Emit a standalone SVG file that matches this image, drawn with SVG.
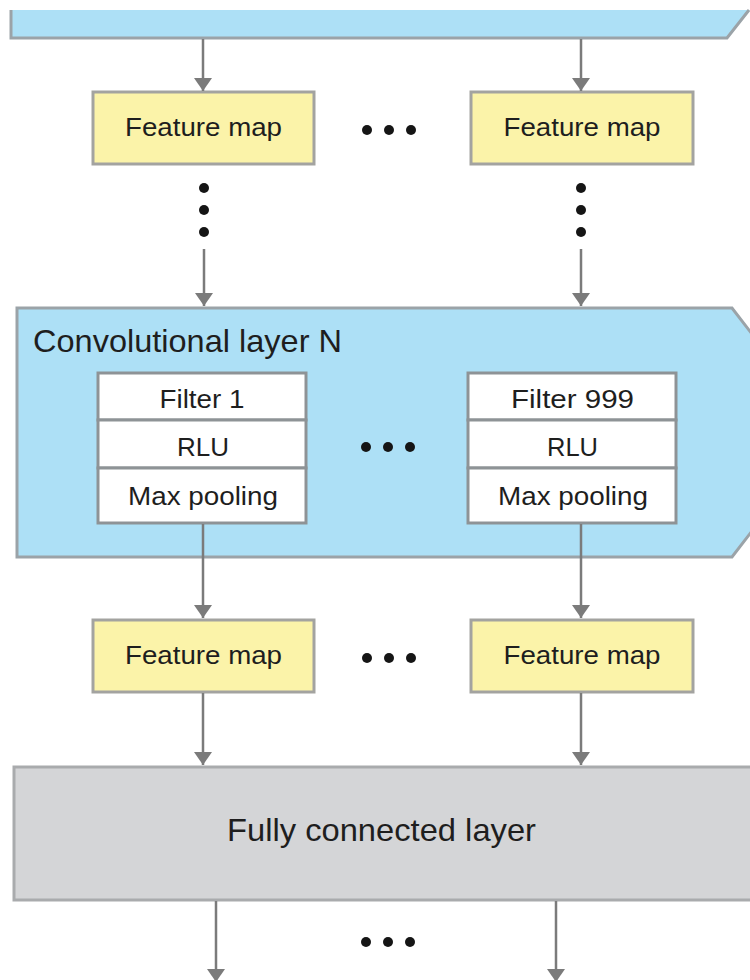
<svg xmlns="http://www.w3.org/2000/svg" width="750" height="980" viewBox="0 0 750 980">
  <defs>
    <marker id="ah" markerUnits="userSpaceOnUse" markerWidth="14" markerHeight="18" refX="13" refY="9" orient="auto" viewBox="0 0 14 18">
      <path d="M0,0 L13,9 L0,18 Z" fill="#7b7b7b"/>
    </marker>
  </defs>
  <style>
    .lbl { font-family: "Liberation Sans", Arial, sans-serif; fill: #1e1e1e; }
    .fm rect { fill: #fbf3a9; stroke: #a3a3a0; stroke-width: 3; }
    .flt rect { fill: #ffffff; stroke: #8e9396; stroke-width: 3; }
    .layer { fill: #ade0f6; stroke: #9ba3a8; stroke-width: 3; }
    .conn line { stroke: #7b7b7b; stroke-width: 2.5; marker-end: url(#ah); }
    .dot { fill: #151515; }
  </style>

  <!-- Top (previous) layer band -->
  <g id="top-layer">
    <polygon points="11,10 749,10 727,38 11,38" fill="#ade0f6"/>
    <polyline points="11,10 11,38 727,38 749,10" fill="none" stroke="#9ba3a8" stroke-width="3"/>
  </g>

  <!-- Feature maps row 1 -->
  <g id="fm1-left" class="fm">
    <rect x="93" y="92" width="221" height="72"/>
    <text class="lbl" x="203.5" y="136" font-size="26" text-anchor="middle" textLength="157" lengthAdjust="spacingAndGlyphs">Feature map</text>
  </g>
  <g id="fm1-right" class="fm">
    <rect x="471" y="92" width="222" height="72"/>
    <text class="lbl" x="582" y="136" font-size="26" text-anchor="middle" textLength="157" lengthAdjust="spacingAndGlyphs">Feature map</text>
  </g>
  <g id="dots-row1">
    <circle class="dot" cx="367" cy="130" r="5"/>
    <circle class="dot" cx="389" cy="130" r="5"/>
    <circle class="dot" cx="411" cy="130" r="5"/>
  </g>

  <!-- Vertical ellipses -->
  <g id="vdots-left">
    <circle class="dot" cx="204" cy="188" r="5"/>
    <circle class="dot" cx="204" cy="210" r="5"/>
    <circle class="dot" cx="204" cy="232" r="5"/>
  </g>
  <g id="vdots-right">
    <circle class="dot" cx="581" cy="188" r="5"/>
    <circle class="dot" cx="581" cy="210" r="5"/>
    <circle class="dot" cx="581" cy="232" r="5"/>
  </g>

  <!-- Convolutional layer N -->
  <g id="conv-layer-n">
    <polygon class="layer" points="17,308 732,308 752,334 752,531 732,557 17,557"/>
    <text class="lbl" x="33" y="352" font-size="32" fill="#1b2a33" textLength="309" lengthAdjust="spacingAndGlyphs">Convolutional layer N</text>
  </g>
  <g id="filter-1" class="flt">
    <rect x="98" y="373" width="208" height="47"/>
    <rect x="98" y="420" width="208" height="48"/>
    <rect x="98" y="468" width="208" height="55"/>
    <text class="lbl" x="202" y="408" font-size="26" text-anchor="middle" textLength="85" lengthAdjust="spacingAndGlyphs">Filter 1</text>
    <text class="lbl" x="203" y="456" font-size="26" text-anchor="middle" textLength="52" lengthAdjust="spacingAndGlyphs">RLU</text>
    <text class="lbl" x="203" y="505" font-size="26" text-anchor="middle" textLength="150" lengthAdjust="spacingAndGlyphs">Max pooling</text>
  </g>
  <g id="filter-999" class="flt">
    <rect x="468" y="373" width="208" height="47"/>
    <rect x="468" y="420" width="208" height="48"/>
    <rect x="468" y="468" width="208" height="55"/>
    <text class="lbl" x="572.5" y="408" font-size="26" text-anchor="middle" textLength="123" lengthAdjust="spacingAndGlyphs">Filter 999</text>
    <text class="lbl" x="572.5" y="456" font-size="26" text-anchor="middle" textLength="51" lengthAdjust="spacingAndGlyphs">RLU</text>
    <text class="lbl" x="573" y="505" font-size="26" text-anchor="middle" textLength="150" lengthAdjust="spacingAndGlyphs">Max pooling</text>
  </g>
  <g id="dots-conv">
    <circle class="dot" cx="366" cy="447" r="5"/>
    <circle class="dot" cx="388" cy="447" r="5"/>
    <circle class="dot" cx="410" cy="447" r="5"/>
  </g>

  <!-- Feature maps row 2 -->
  <g id="fm2-left" class="fm">
    <rect x="93" y="620" width="221" height="72"/>
    <text class="lbl" x="203.5" y="664" font-size="26" text-anchor="middle" textLength="157" lengthAdjust="spacingAndGlyphs">Feature map</text>
  </g>
  <g id="fm2-right" class="fm">
    <rect x="471" y="620" width="222" height="72"/>
    <text class="lbl" x="582" y="664" font-size="26" text-anchor="middle" textLength="157" lengthAdjust="spacingAndGlyphs">Feature map</text>
  </g>
  <g id="dots-row2">
    <circle class="dot" cx="367" cy="658" r="5"/>
    <circle class="dot" cx="389" cy="658" r="5"/>
    <circle class="dot" cx="411" cy="658" r="5"/>
  </g>

  <!-- Fully connected layer -->
  <g id="fully-connected">
    <rect x="14" y="767" width="750" height="133" fill="#d4d5d7" stroke="#a9abad" stroke-width="3"/>
    <text class="lbl" x="381.5" y="841" font-size="32" text-anchor="middle" textLength="309" lengthAdjust="spacingAndGlyphs">Fully connected layer</text>
  </g>
  <g id="dots-bottom">
    <circle class="dot" cx="366" cy="942" r="5"/>
    <circle class="dot" cx="388" cy="942" r="5"/>
    <circle class="dot" cx="410" cy="942" r="5"/>
  </g>

  <!-- Connectors -->
  <g id="connectors" class="conn">
    <line x1="203" y1="39" x2="203" y2="91"/>
    <line x1="581" y1="39" x2="581" y2="91"/>
    <line x1="204" y1="249" x2="204" y2="306"/>
    <line x1="581" y1="249" x2="581" y2="306"/>
    <line x1="203" y1="524" x2="203" y2="618"/>
    <line x1="581" y1="524" x2="581" y2="618"/>
    <line x1="203" y1="693" x2="203" y2="765"/>
    <line x1="581" y1="693" x2="581" y2="765"/>
    <line x1="216" y1="901" x2="216" y2="982"/>
    <line x1="556" y1="901" x2="556" y2="982"/>
  </g>
</svg>
